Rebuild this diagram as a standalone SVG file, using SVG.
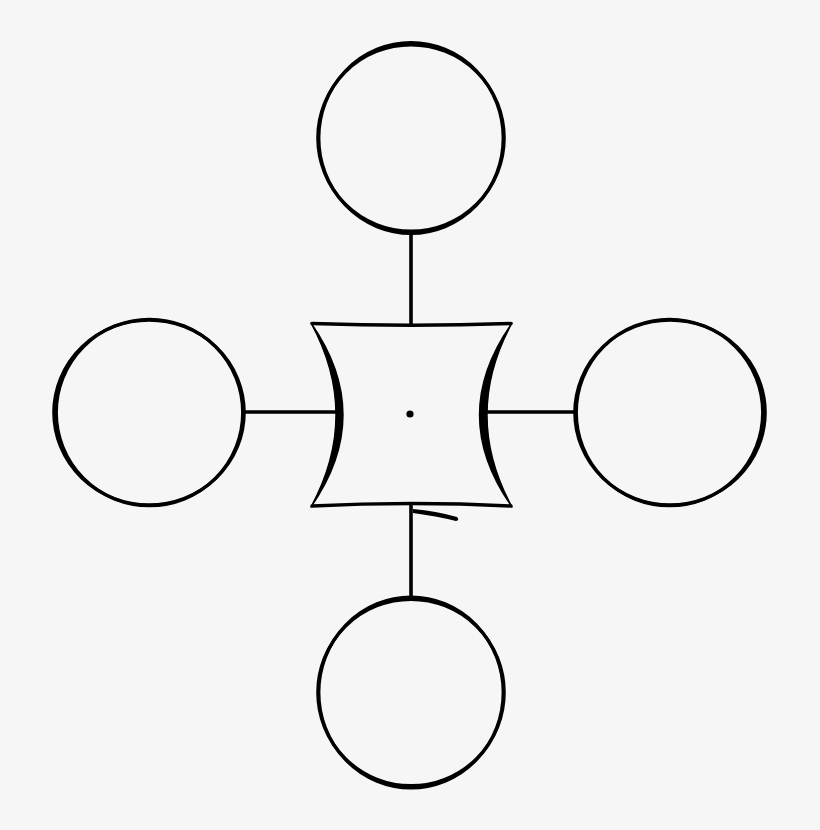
<svg xmlns="http://www.w3.org/2000/svg" width="820" height="830" viewBox="0 0 820 830">
  <style>
    .ring { fill: none; stroke: #000; stroke-width: 3.2; }
    .link { fill: none; stroke: #000; stroke-width: 3.6; }
    .ink { fill: #000; stroke: none; }
    .edge { fill: none; stroke: #000; stroke-width: 3.4; stroke-linecap: round; }
    .side { fill: #000; stroke: #000; stroke-width: 1.4; stroke-linejoin: round; }
  </style>
  <rect x="0" y="0" width="820" height="830" fill="#f6f6f6"/>
  <g id="connectors">
    <line class="link" x1="411" y1="232" x2="411" y2="324"/>
    <line class="link" x1="243" y1="412" x2="337" y2="412"/>
    <line class="link" x1="483" y1="412" x2="576" y2="412"/>
    <line class="link" x1="411" y1="505" x2="411" y2="599"/>
    <path class="ink" d="M413,509 Q436,511 457,517 Q460,520 456,521 Q436,516 413,513 Z"/>
  </g>
  <g id="node-top">
    <circle class="ring" cx="411" cy="138" r="93.2"/>
    <ellipse class="ring" cx="411" cy="138" rx="92.2" ry="95.4"/>
  </g>
  <g id="node-left">
    <circle class="ring" cx="149.5" cy="412.5" r="93.2"/>
    <ellipse class="ring" cx="149" cy="412.5" rx="95.2" ry="92.4"/>
  </g>
  <g id="node-right">
    <circle class="ring" cx="669.5" cy="412.5" r="93.2"/>
    <ellipse class="ring" cx="670" cy="412.5" rx="95.2" ry="92.4"/>
  </g>
  <g id="node-bottom">
    <circle class="ring" cx="411" cy="692.5" r="93.2"/>
    <ellipse class="ring" cx="411" cy="692.5" rx="92.2" ry="95.4"/>
  </g>
  <g id="node-center">
    <path class="edge" d="M312,323.5 Q411,327 511,323.5"/>
    <path class="edge" d="M312,506 Q411,501 511,506"/>
    <path class="side" d="M311,323 Q361,415 311,507 Q375,415 311,323 Z"/>
    <path class="side" d="M512,323 Q462,415 512,507 Q447,415 512,323 Z"/>
    <circle class="ink" cx="410" cy="414" r="3.6"/>
  </g>
</svg>
